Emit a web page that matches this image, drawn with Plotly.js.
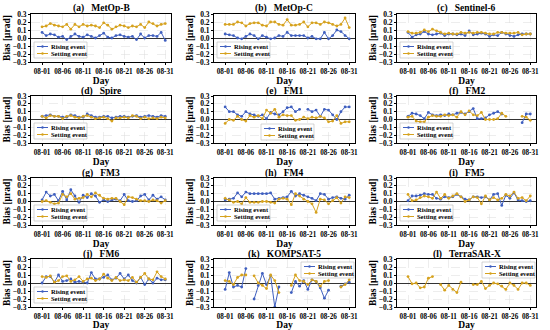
<!DOCTYPE html>
<html><head><meta charset="utf-8">
<script src="https://cdn.plot.ly/plotly-3.0.1.min.js"></script>
<style>html,body{margin:0;padding:0;background:#fff}#chart{width:550px;height:330px}</style>
</head><body><div id="chart"></div>
<script>
const days = ['08-01','08-02','08-03','08-04','08-05','08-06','08-07','08-08','08-09','08-10','08-11','08-12','08-13','08-14','08-15','08-16','08-17','08-18','08-19','08-20','08-21','08-22','08-23','08-24','08-25','08-26','08-27','08-28','08-29','08-30','08-31'];
const tickLabels = ['08-01','08-06','08-11','08-16','08-21','08-26','08-31'];
const yTicks = [-0.3,-0.2,-0.1,0,0.1,0.2,0.3];
const seriesNames = ['Rising event','Setting event'];
const panelTitles = ['(a)   MetOp-B','(b)   MetOp-C','(c)   Sentinel-6','(d)   Spire','(e)   FM1','(f)   FM2','(g)   FM3','(h)   FM4','(i)   FM5','(j)   FM6','(k)   KOMPSAT-5','(l)   TerraSAR-X'];

const metopBRising = [0.07,0.03,0.05,0.04,0.01,0.02,-0.02,0.02,0.05,0.02,0.01,0.04,0.02,0.00,0.03,0.06,0.01,0.00,0.03,0.04,0.02,0.01,0.02,-0.02,0.05,0.00,0.03,0.03,0.02,0.07,-0.03];
const metopBSetting = [0.14,0.15,0.18,0.16,0.15,0.14,0.17,0.11,0.17,0.14,0.17,0.15,0.16,0.15,0.13,0.19,0.16,0.11,0.14,0.16,0.15,0.13,0.15,0.14,0.17,0.13,0.20,0.18,0.15,0.17,0.18];
const metopCRising = [0.05,0.04,0.03,0.00,-0.01,0.02,0.05,0.03,-0.01,0.03,0.01,-0.01,0.00,0.03,0.02,0.07,0.03,0.03,0.03,0.03,0.00,0.02,-0.01,-0.01,0.07,-0.01,0.03,0.10,0.08,0.03,-0.01];
const metopCSetting = [0.17,0.17,0.17,0.20,0.19,0.15,0.18,0.19,0.19,0.16,0.15,0.20,0.20,0.17,0.16,0.23,0.16,0.16,0.17,0.20,0.14,0.19,0.19,0.17,0.20,0.19,0.17,0.15,0.17,0.25,0.13];
const sentinel6Rising = [0.07,0.01,0.04,0.05,0.08,0.05,0.04,0.05,0.06,0.03,0.05,0.05,0.04,0.05,0.03,0.09,0.04,0.05,0.06,0.05,0.02,0.04,0.03,0.07,0.05,0.03,0.02,0.04,0.05,0.05,0.05];
const sentinel6Setting = [0.08,0.06,0.06,0.07,0.10,0.08,0.11,0.09,0.07,0.05,0.06,0.05,0.05,0.07,0.06,0.07,0.06,0.07,0.07,0.06,0.05,0.05,0.07,0.07,0.06,0.06,0.06,0.07,0.04,0.05,0.05];
const spireRising = [0.04,0.05,0.06,0.04,0.04,0.03,0.03,0.06,0.05,0.03,0.03,0.07,0.05,0.03,0.03,0.04,0.04,0.02,0.03,0.04,0.04,0.03,0.04,0.05,0.03,0.04,0.05,0.04,0.03,0.05,0.04];
const spireSetting = [0.04,0.02,0.05,0.04,0.04,0.01,0.04,0.05,0.03,0.02,0.04,0.05,0.03,0.01,0.02,0.03,0.01,-0.02,0.02,0.02,0.03,0.02,0.05,0.04,0.01,0.03,0.01,0.02,0.01,0.03,0.02];
const fm1Rising = [0.16,0.10,0.10,0.06,0.04,0.10,0.07,0.06,0.04,0.06,0.01,0.09,0.07,0.06,0.10,0.15,0.16,0.10,0.13,null,0.13,0.10,0.12,0.04,0.13,0.12,0.06,0.00,0.10,0.16,0.16];
const fm1Setting = [-0.05,0.00,-0.01,0.04,0.00,-0.02,0.05,0.03,0.05,0.01,0.12,0.08,0.13,0.03,0.06,0.05,0.05,-0.01,0.00,0.03,0.01,0.03,0.02,0.04,0.02,-0.03,-0.02,0.05,-0.05,-0.03,-0.03];
const fm2Rising = [0.04,0.08,0.07,0.05,0.01,0.09,0.06,0.05,0.06,0.05,0.07,0.06,0.08,0.09,0.07,0.10,0.14,0.01,0.01,0.02,0.06,0.08,0.10,0.07,null,null,null,null,-0.04,0.07,0.07];
const fm2Setting = [0.03,0.04,-0.02,-0.03,-0.03,0.03,0.05,0.04,0.04,0.06,0.05,0.06,0.03,0.10,0.06,0.11,0.06,0.05,0.09,0.00,0.00,0.00,0.01,0.08,0.04,null,null,null,0.04,0.03,-0.01];
const fm3Rising = [0.02,0.12,0.07,0.09,0.01,0.13,0.02,0.15,0.07,-0.01,0.08,0.05,0.10,0.07,-0.01,0.02,0.00,0.02,0.03,0.01,0.09,0.01,0.00,0.01,0.07,0.09,0.02,0.08,0.03,0.06,0.02];
const fm3Setting = [0.00,0.01,-0.01,-0.03,-0.02,0.09,0.06,0.10,0.03,0.04,0.05,0.09,0.06,0.11,0.08,0.04,0.03,0.04,0.04,0.00,-0.04,0.06,0.05,0.03,0.01,0.01,0.00,0.02,0.01,-0.02,0.01];
const fm4Rising = [0.02,0.03,0.04,0.11,0.06,0.12,0.10,0.10,0.10,0.10,0.10,0.11,0.03,0.04,0.05,0.06,0.13,0.07,0.10,0.08,0.06,0.04,0.01,0.10,0.09,0.03,0.05,0.06,0.04,0.03,0.08];
const fm4Setting = [0.04,0.02,-0.01,0.00,-0.03,0.05,-0.01,-0.01,-0.01,0.00,0.00,-0.01,-0.02,0.03,0.04,0.03,-0.04,0.10,0.07,0.03,0.00,-0.03,-0.14,0.03,0.02,-0.03,0.01,0.05,-0.02,0.06,0.05];
const fm5Rising = [0.01,0.07,0.07,0.08,0.10,0.09,0.09,0.04,0.03,0.06,0.05,0.06,0.09,0.06,0.03,0.02,0.06,0.06,0.05,0.06,0.02,0.09,0.10,-0.05,0.08,0.04,0.11,0.02,0.01,0.00,0.01];
const fm5Setting = [0.09,0.01,0.02,0.05,0.07,0.06,0.04,0.12,0.04,0.09,0.04,0.07,0.10,0.06,0.00,0.02,0.06,0.05,-0.03,0.07,0.02,0.05,0.02,0.04,0.09,0.07,0.12,0.04,0.05,0.01,0.07];
const fm6Rising = [0.00,0.08,0.08,0.01,0.10,0.02,0.03,0.05,0.01,0.02,0.01,0.00,0.13,0.05,0.05,0.07,0.10,0.04,0.06,0.12,0.05,0.10,0.03,0.00,0.07,-0.02,0.05,0.00,0.06,0.04,0.04];
const fm6Setting = [0.08,0.07,0.09,0.01,0.03,0.08,0.09,0.02,0.04,0.08,0.02,0.05,0.06,0.03,0.05,0.11,0.06,0.03,0.07,0.03,0.04,0.03,0.07,0.01,0.07,0.12,0.05,0.04,0.14,0.08,0.05];
const kompsat5Rising = [-0.08,0.13,-0.05,-0.03,-0.05,0.18,null,-0.20,-0.03,0.12,-0.02,0.09,-0.30,-0.05,null,null,-0.12,0.02,-0.04,0.03,-0.08,0.04,0.02,-0.06,-0.19,-0.09,null,null,-0.04,-0.01,0.01];
const kompsat5Setting = [0.03,0.02,-0.02,0.07,0.10,0.10,null,0.09,0.00,-0.03,-0.07,0.10,0.03,-0.12,null,null,-0.03,0.10,0.03,0.02,-0.02,0.04,0.02,-0.04,0.02,0.03,null,null,-0.05,-0.02,0.04];
const terrasarXRising = [null,null,null,null,null,null,null,null,null,null,null,null,null,null,null,null,null,null,null,null,null,null,null,null,null,null,null,null,null,null,null];
const terrasarXSetting = [0.08,-0.01,0.00,-0.06,-0.05,0.06,0.08,null,-0.02,-0.09,-0.03,-0.08,-0.12,0.01,null,null,-0.02,-0.02,0.02,-0.07,-0.03,0.00,-0.01,-0.04,-0.08,0.00,-0.03,-0.08,0.00,0.00,-0.03];

const risingSeries = [metopBRising,metopCRising,sentinel6Rising,spireRising,fm1Rising,fm2Rising,fm3Rising,fm4Rising,fm5Rising,fm6Rising,kompsat5Rising,terrasarXRising];
const settingSeries = [metopBSetting,metopCSetting,sentinel6Setting,spireSetting,fm1Setting,fm2Setting,fm3Setting,fm4Setting,fm5Setting,fm6Setting,kompsat5Setting,terrasarXSetting];
const legendPlace = ['ll','ll','ll','ll','lc','ll','ll','ll','ll','ll','ur','ur'];

const W = 550, H = 330;
const cols = [[31,171],[214,355],[397,536]];
const rows = [[14,62],[96,143],[178,225],[259,307]];
const colors = ['#3f5fbf','#d6a21e'];
const FONT = 'Liberation Serif, Times New Roman, serif';
const px = x => x / W;
const py = y => 1 - y / H;

const data = [];
const layout = {
  width: W, height: H,
  margin: {l:0, r:0, t:0, b:0},
  paper_bgcolor: '#fff', plot_bgcolor: '#fff',
  showlegend: false,
  font: {family: FONT, color: '#000'},
  shapes: [], annotations: []
};

panelTitles.forEach((title, i) => {
  const r = Math.floor(i / 3), c = i % 3;
  const [x0, x1] = cols[c], [y0, y1] = rows[r];
  const sfx = i === 0 ? '' : String(i + 1);
  const xa = 'x' + sfx, ya = 'y' + sfx;
  [risingSeries[i], settingSeries[i]].forEach((ys, k) => {
    data.push({
      type: 'scatter', mode: 'lines+markers', x: days, y: ys,
      xaxis: xa, yaxis: ya, name: seriesNames[k], connectgaps: false,
      line: {color: colors[k], width: 1}, marker: {color: colors[k], size: 2.8}
    });
  });
  layout['xaxis' + sfx] = {
    domain: [px(x0), px(x1)], anchor: ya, type: 'category',
    range: [-2.7, 31.4], tickvals: tickLabels, ticktext: tickLabels,
    showline: true, mirror: true, linecolor: '#000', linewidth: 1,
    ticks: 'outside', ticklen: 2, tickwidth: 1, tickcolor: '#000',
    showgrid: true, gridcolor: '#dcdcdc', gridwidth: 0.5, griddash: 'dash',
    tickfont: {family: FONT, size: 7.2, weight: 'bold', color: '#000'},
    title: {text: 'Day', font: {family: FONT, size: 9.5, weight: 'bold'}, standoff: 0}
  };
  layout['yaxis' + sfx] = {
    domain: [py(y1), py(y0)], anchor: xa,
    range: [-0.3, 0.3], tickvals: yTicks, tickformat: '.1f',
    showline: true, mirror: true, linecolor: '#000', linewidth: 1,
    ticks: 'outside', ticklen: 2, tickwidth: 1, tickcolor: '#000',
    showgrid: true, gridcolor: '#dcdcdc', gridwidth: 0.5, griddash: 'dash',
    zeroline: true, zerolinecolor: '#333', zerolinewidth: 1,
    tickfont: {family: FONT, size: 7.5, weight: 'bold', color: '#000'},
    title: {text: 'Bias [\u03bcrad]', font: {family: FONT, size: 9.5, weight: 'bold'}, standoff: 0}
  };
  layout.annotations.push({
    xref: 'paper', yref: 'paper', x: px((x0 + x1) / 2), y: py(y0 - 5),
    xanchor: 'center', yanchor: 'middle', showarrow: false,
    text: title.replace(/ /g, '\u00a0'),
    font: {family: FONT, size: 9.5, weight: 'bold'}
  });
  // legend box
  let bx0, bx1, by0, by1;
  const lw = 53, lh = 16;
  if (legendPlace[i] === 'll') { bx0 = x0 + 3; by1 = y1 - 4; }
  else if (legendPlace[i] === 'lc') { bx0 = 261; by1 = y1 - 3; }
  else { bx0 = x1 - 1 - lw; by1 = y0 + 3 + lh; }
  bx1 = bx0 + lw; by0 = by1 - lh;
  layout.shapes.push({type: 'rect', xref: 'paper', yref: 'paper',
    x0: px(bx0), x1: px(bx1), y0: py(by1), y1: py(by0),
    fillcolor: 'rgba(255,255,255,0.85)', line: {color: '#bbbbbb', width: 0.6}});
  seriesNames.forEach((nm, k) => {
    const ly = by0 + 4.5 + k * 7;
    layout.shapes.push({type: 'line', xref: 'paper', yref: 'paper',
      x0: px(bx0 + 3), x1: px(bx0 + 14), y0: py(ly), y1: py(ly),
      line: {color: colors[k], width: 1}});
    layout.shapes.push({type: 'circle', xref: 'paper', yref: 'paper',
      x0: px(bx0 + 7.3), x1: px(bx0 + 9.7), y0: py(ly + 1.2), y1: py(ly - 1.2),
      fillcolor: colors[k], line: {color: colors[k], width: 0}});
    layout.annotations.push({xref: 'paper', yref: 'paper', x: px(bx0 + 16), y: py(ly),
      xanchor: 'left', yanchor: 'middle', showarrow: false, borderpad: 0,
      text: nm, font: {family: FONT, size: 6.5, weight: 'bold'}});
  });
});

Plotly.newPlot('chart', data, layout, {displayModeBar: false, staticPlot: true});
</script>
</body></html>
